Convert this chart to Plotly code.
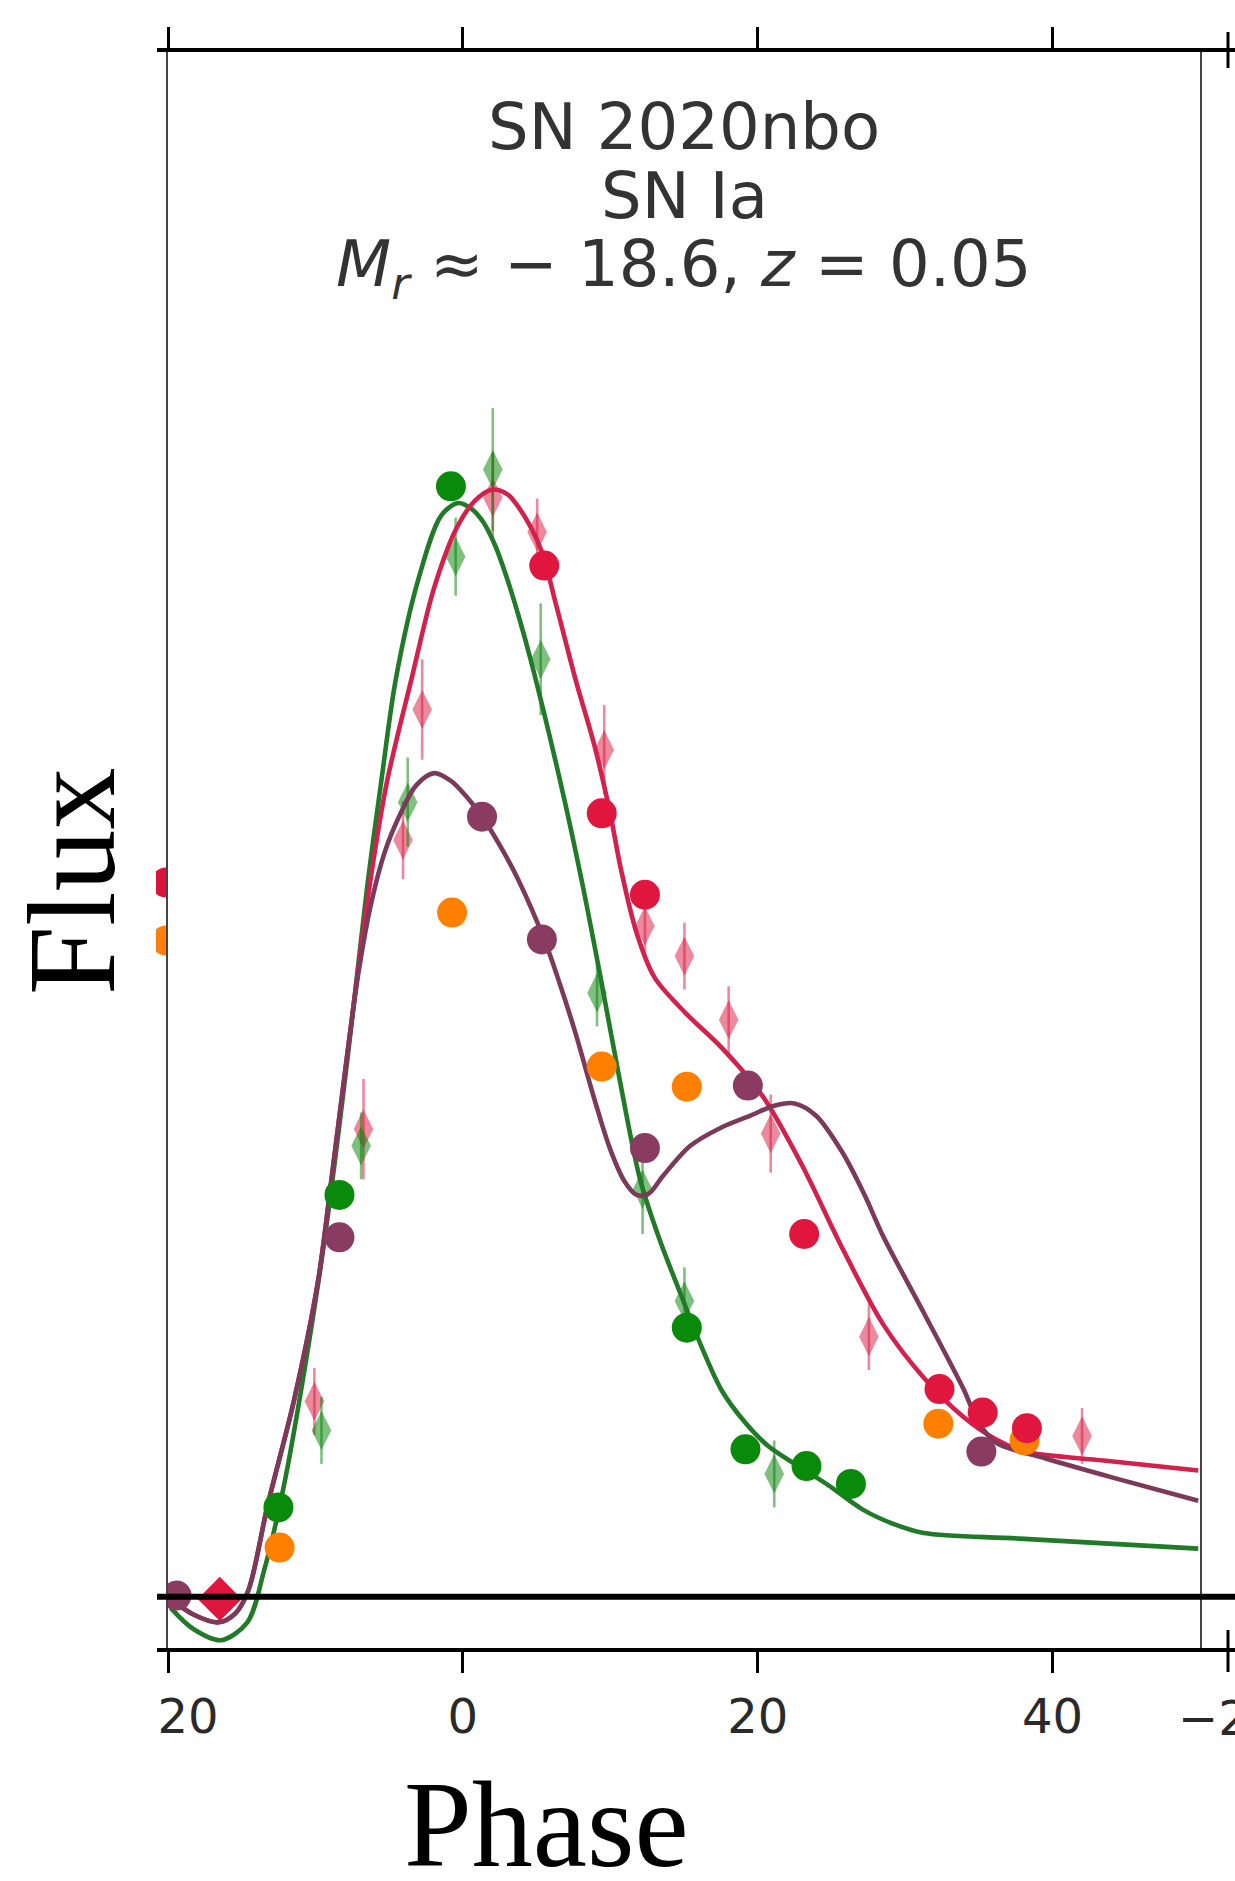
import plotly.graph_objects as go

W, H = 1235, 1881

# ---------------- data (phase in days, normalised flux) ----------------
# ZTF-g like circles (green)
g_phase = [-0.81, -8.37, -12.51, 15.19, 19.17, 23.31, 26.32]
g_flux = [0.995, 0.360, 0.080, 0.241, 0.132, 0.117, 0.101]

# ZTF-r like circles (crimson)
r_phase = [5.52, 9.42, 12.35, 23.15, 32.33, 35.26, 38.26]
r_flux = [0.924, 0.702, 0.629, 0.325, 0.186, 0.165, 0.151]

# purple circles
p_phase = [-19.42, -8.37, 1.30, 5.36, 12.35, 19.33, 35.17]
p_flux = [0.001, 0.322, 0.699, 0.589, 0.402, 0.458, 0.130]

# orange circles
o_phase = [-12.43, -0.73, 9.42, 15.19, 32.25, 38.10]
o_flux = [0.044, 0.613, 0.475, 0.457, 0.155, 0.140]

# crimson square-diamond near zero
d_phase = [-16.49]
d_flux = [-0.002]

# translucent crimson thin diamonds with errors
rd_phase = [-10.07, -6.74, -4.06, -2.76, 2.03, 5.04, 9.59, 12.35, 15.03, 18.03, 20.88, 27.54, 42.00]
rd_flux = [0.175, 0.419, 0.678, 0.795, 0.985, 0.954, 0.759, 0.601, 0.574, 0.517, 0.415, 0.233, 0.144]
rd_err = [0.030, 0.045, 0.035, 0.045, 0.040, 0.030, 0.040, 0.030, 0.030, 0.030, 0.035, 0.030, 0.025]

# translucent green thin diamonds with errors
gd_phase = [-9.59, -6.90, -3.74, -0.49, 2.03, 5.28, 9.10, 12.19, 15.03, 21.12]
gd_flux = [0.149, 0.404, 0.712, 0.932, 1.010, 0.840, 0.541, 0.365, 0.265, 0.110]
gd_err = [0.030, 0.030, 0.040, 0.035, 0.055, 0.050, 0.030, 0.040, 0.030, 0.030]

# model curves
gm_phase = [-19.82, -18.28, -16.41, -14.62, -13.49, -12.10, -10.72, -9.34, -7.80, -6.50,
            -5.52, -4.55, -3.01, -1.46, -0.32, 0.57, 1.38, 2.19, 3.01, 3.82, 4.63,
            6.58, 8.04, 9.34, 10.64, 12.02, 13.40, 14.78, 16.25, 17.55, 19.09, 20.71,
            22.75, 24.78, 27.13, 29.24, 31.28, 37.77, 49.88]
gm_flux = [-0.010, -0.029, -0.039, -0.023, 0.023, 0.102, 0.205, 0.324, 0.485, 0.635,
           0.732, 0.822, 0.912, 0.969, 0.980, 0.975, 0.963, 0.942, 0.912, 0.877, 0.838,
           0.732, 0.643, 0.555, 0.463, 0.374, 0.318, 0.271, 0.222, 0.185, 0.157, 0.135,
           0.117, 0.100, 0.078, 0.065, 0.057, 0.052, 0.043]

rm_phase = [-19.82, -18.28, -16.57, -15.43, -14.54, -13.24, -11.45, -9.83, -8.94, -7.80,
            -6.26, -5.12, -3.49, -1.95, -0.41, 0.81, 1.95, 3.01, 3.90, 5.28, 6.34,
            7.64, 8.94, 9.99, 10.72, 11.78, 13.00, 15.11, 17.55, 20.31, 22.99, 25.75,
            28.51, 31.28, 33.96, 36.15, 38.10, 43.46, 49.88]
rm_flux = [-0.002, -0.016, -0.023, -0.015, 0.006, 0.082, 0.176, 0.282, 0.371, 0.490,
           0.643, 0.732, 0.822, 0.904, 0.958, 0.982, 0.992, 0.988, 0.974, 0.939, 0.888,
           0.822, 0.762, 0.702, 0.652, 0.595, 0.555, 0.523, 0.492, 0.449, 0.387, 0.312,
           0.244, 0.196, 0.161, 0.141, 0.130, 0.122, 0.113]

pm_phase = [-19.82, -18.28, -16.57, -15.43, -14.54, -13.24, -11.45, -9.83, -8.94, -7.80,
            -7.07, -6.26, -5.28, -4.22, -3.17, -1.95, -0.81, 0.24, 1.30, 2.52, 3.74,
            5.52, 6.58, 7.64, 8.94, 9.99, 10.97, 11.78, 12.59, 13.57, 15.43, 17.47,
            19.50, 21.12, 22.50, 23.96, 25.75, 27.21, 28.51, 31.28, 33.96, 34.94,
            36.15, 39.48, 44.27, 49.88]
pm_flux = [-0.002, -0.016, -0.023, -0.015, 0.006, 0.082, 0.176, 0.282, 0.371, 0.490,
           0.560, 0.619, 0.668, 0.702, 0.727, 0.738, 0.731, 0.717, 0.699, 0.673, 0.643,
           0.589, 0.549, 0.505, 0.445, 0.401, 0.372, 0.360, 0.361, 0.377, 0.404, 0.420,
           0.431, 0.440, 0.442, 0.431, 0.398, 0.361, 0.323, 0.254, 0.186, 0.157,
           0.138, 0.124, 0.106, 0.086]

# fragments of the neighbouring panel on the left edge
nb_phase = [50.0, 50.0]
nb_flux = [0.640, 0.588]
nb_colors = ["#dc143c", "#ff7f0e"]

x_ticks = [-20, 0, 20, 40]
x_ticktext = ["\u221220", "0", "20", "40"]

title_lines = ["SN 2020nbo", "SN Ia",
               "<i>M</i><sub><i>r</i></sub> \u2248 \u2212 18.6, <i>z</i> = 0.05"]

# ---------------- styling ----------------
GREEN = "#0a8a0a"
GREEN_LINE = "#207a28"
RED = "#e0163f"
RED_LINE = "#d4204c"
PURPLE = "#8a3b62"
PURPLE_LINE = "#7c3a5a"
ORANGE = "#ff8000"

x_dom = [168 / W, 1200 / W]
y_dom = [1 - 1650 / H, 1 - 50 / H]
y_range = [-0.0478, 1.386]


def px_x(p):
    return p / W


def px_y(p):
    return 1 - p / H


fig = go.Figure()

# translucent diamonds with error bars
fig.add_trace(go.Scatter(
    x=rd_phase, y=rd_flux, mode="markers",
    error_y=dict(type="data", array=rd_err, thickness=2.6, width=0,
                 color="rgba(220,20,60,0.5)"),
    marker=dict(symbol="diamond-tall", size=28, color="rgba(220,20,60,0.5)",
                line=dict(width=0)),
    showlegend=False, hoverinfo="skip"))
fig.add_trace(go.Scatter(
    x=gd_phase, y=gd_flux, mode="markers",
    error_y=dict(type="data", array=gd_err, thickness=2.6, width=0,
                 color="rgba(0,128,0,0.5)"),
    marker=dict(symbol="diamond-tall", size=28, color="rgba(0,128,0,0.5)",
                line=dict(width=0)),
    showlegend=False, hoverinfo="skip"))

# model curves
for xs, ys, col in [(gm_phase, gm_flux, GREEN_LINE),
                    (rm_phase, rm_flux, RED_LINE),
                    (pm_phase, pm_flux, PURPLE_LINE)]:
    fig.add_trace(go.Scatter(
        x=xs, y=ys, mode="lines",
        line=dict(color=col, width=4.6, shape="spline", smoothing=0.9),
        showlegend=False, hoverinfo="skip"))

# circles
for xs, ys, col in [(o_phase, o_flux, ORANGE),
                    (p_phase, p_flux, PURPLE),
                    (g_phase, g_flux, GREEN),
                    (r_phase, r_flux, RED)]:
    fig.add_trace(go.Scatter(
        x=xs, y=ys, mode="markers",
        marker=dict(symbol="circle", size=30, color=col, line=dict(width=0)),
        showlegend=False, hoverinfo="skip"))

fig.add_trace(go.Scatter(
    x=d_phase, y=d_flux, mode="markers",
    marker=dict(symbol="diamond", size=34, color=RED, line=dict(width=0)),
    showlegend=False, hoverinfo="skip"))

# neighbouring panel fragments (left)
fig.add_trace(go.Scatter(
    x=nb_phase, y=nb_flux, mode="markers", xaxis="x3", yaxis="y3",
    marker=dict(symbol="circle", size=30, color=nb_colors, line=dict(width=0)),
    showlegend=False, hoverinfo="skip"))

tickfont = dict(family="DejaVu Sans", size=48, color="#2a2a2a")

shapes = [
    # top and bottom frame lines (continue into the neighbouring panel)
    dict(type="line", xref="paper", yref="paper", x0=px_x(157), x1=1.0,
         y0=px_y(50), y1=px_y(50), line=dict(color="black", width=4)),
    dict(type="line", xref="paper", yref="paper", x0=px_x(157), x1=1.0,
         y0=px_y(1650), y1=px_y(1650), line=dict(color="black", width=4)),
    # zero flux line
    dict(type="line", xref="paper", yref="y", x0=px_x(157), x1=1.0,
         y0=0, y1=0, line=dict(color="black", width=6)),
    # neighbour panel ticks (right)
    dict(type="line", xref="paper", yref="paper", x0=px_x(1228), x1=px_x(1228),
         y0=px_y(32), y1=px_y(68), line=dict(color="black", width=3)),
    dict(type="line", xref="paper", yref="paper", x0=px_x(1228), x1=px_x(1228),
         y0=px_y(1630), y1=px_y(1672), line=dict(color="black", width=3)),
    # white cover left of the crop
    dict(type="rect", xref="paper", yref="paper", x0=0, x1=px_x(157),
         y0=px_y(1760), y1=px_y(1680), fillcolor="white", line=dict(width=0),
         layer="above"),
]

annotations = []
for txt, yp in zip(title_lines, [127, 196, 268]):
    annotations.append(dict(
        text=txt, xref="paper", yref="paper", x=px_x(684), y=px_y(yp),
        xanchor="center", yanchor="middle", showarrow=False,
        font=dict(family="DejaVu Sans", size=64, color="#333333")))

annotations.append(dict(
    text="Phase", xref="paper", yref="paper", x=px_x(546), y=px_y(1824),
    xanchor="center", yanchor="middle", showarrow=False,
    font=dict(family="Liberation Serif", size=122, color="black")))
annotations.append(dict(
    text="Flux", xref="paper", yref="paper", x=px_x(72), y=px_y(882),
    xanchor="center", yanchor="middle", showarrow=False, textangle=-90,
    font=dict(family="Liberation Serif", size=124, color="black")))
# neighbour panel tick label (cut by the right edge)
annotations.append(dict(
    text="\u221220", xref="paper", yref="paper", x=px_x(1228), y=px_y(1718),
    xanchor="center", yanchor="middle", showarrow=False,
    font=tickfont))

fig.update_layout(
    width=W, height=H,
    margin=dict(l=0, r=0, t=0, b=0, pad=0, autoexpand=False),
    paper_bgcolor="white", plot_bgcolor="white",
    showlegend=False,
    xaxis=dict(domain=x_dom, range=[-20, 50], tickvals=x_ticks, ticktext=x_ticktext,
               ticks="outside", ticklen=22, tickwidth=3, tickcolor="black",
               mirror="ticks", showline=False, showgrid=False, zeroline=False,
               tickfont=tickfont, ticklabelstandoff=2, anchor="y",
               automargin=False),
    xaxis2=dict(domain=x_dom, range=[-20, 50], tickvals=x_ticks,
                ticks="inside", ticklen=18, tickwidth=3, tickcolor="black",
                mirror="ticks", showline=False, showgrid=False, zeroline=False,
                showticklabels=False, overlaying="x", anchor="y", side="bottom",
                automargin=False),
    yaxis=dict(domain=y_dom, range=y_range, showticklabels=False, ticks="",
               showline=True, linecolor="#444444", linewidth=2, mirror=True,
               showgrid=False, zeroline=False, anchor="x", automargin=False),
    xaxis3=dict(domain=[px_x(156), px_x(166)], range=[45, 50], visible=False,
                anchor="y3", automargin=False),
    yaxis3=dict(domain=y_dom, range=y_range, visible=False, anchor="x3",
                automargin=False),
    shapes=shapes,
    annotations=annotations,
)

fig.write_html("out.html")
